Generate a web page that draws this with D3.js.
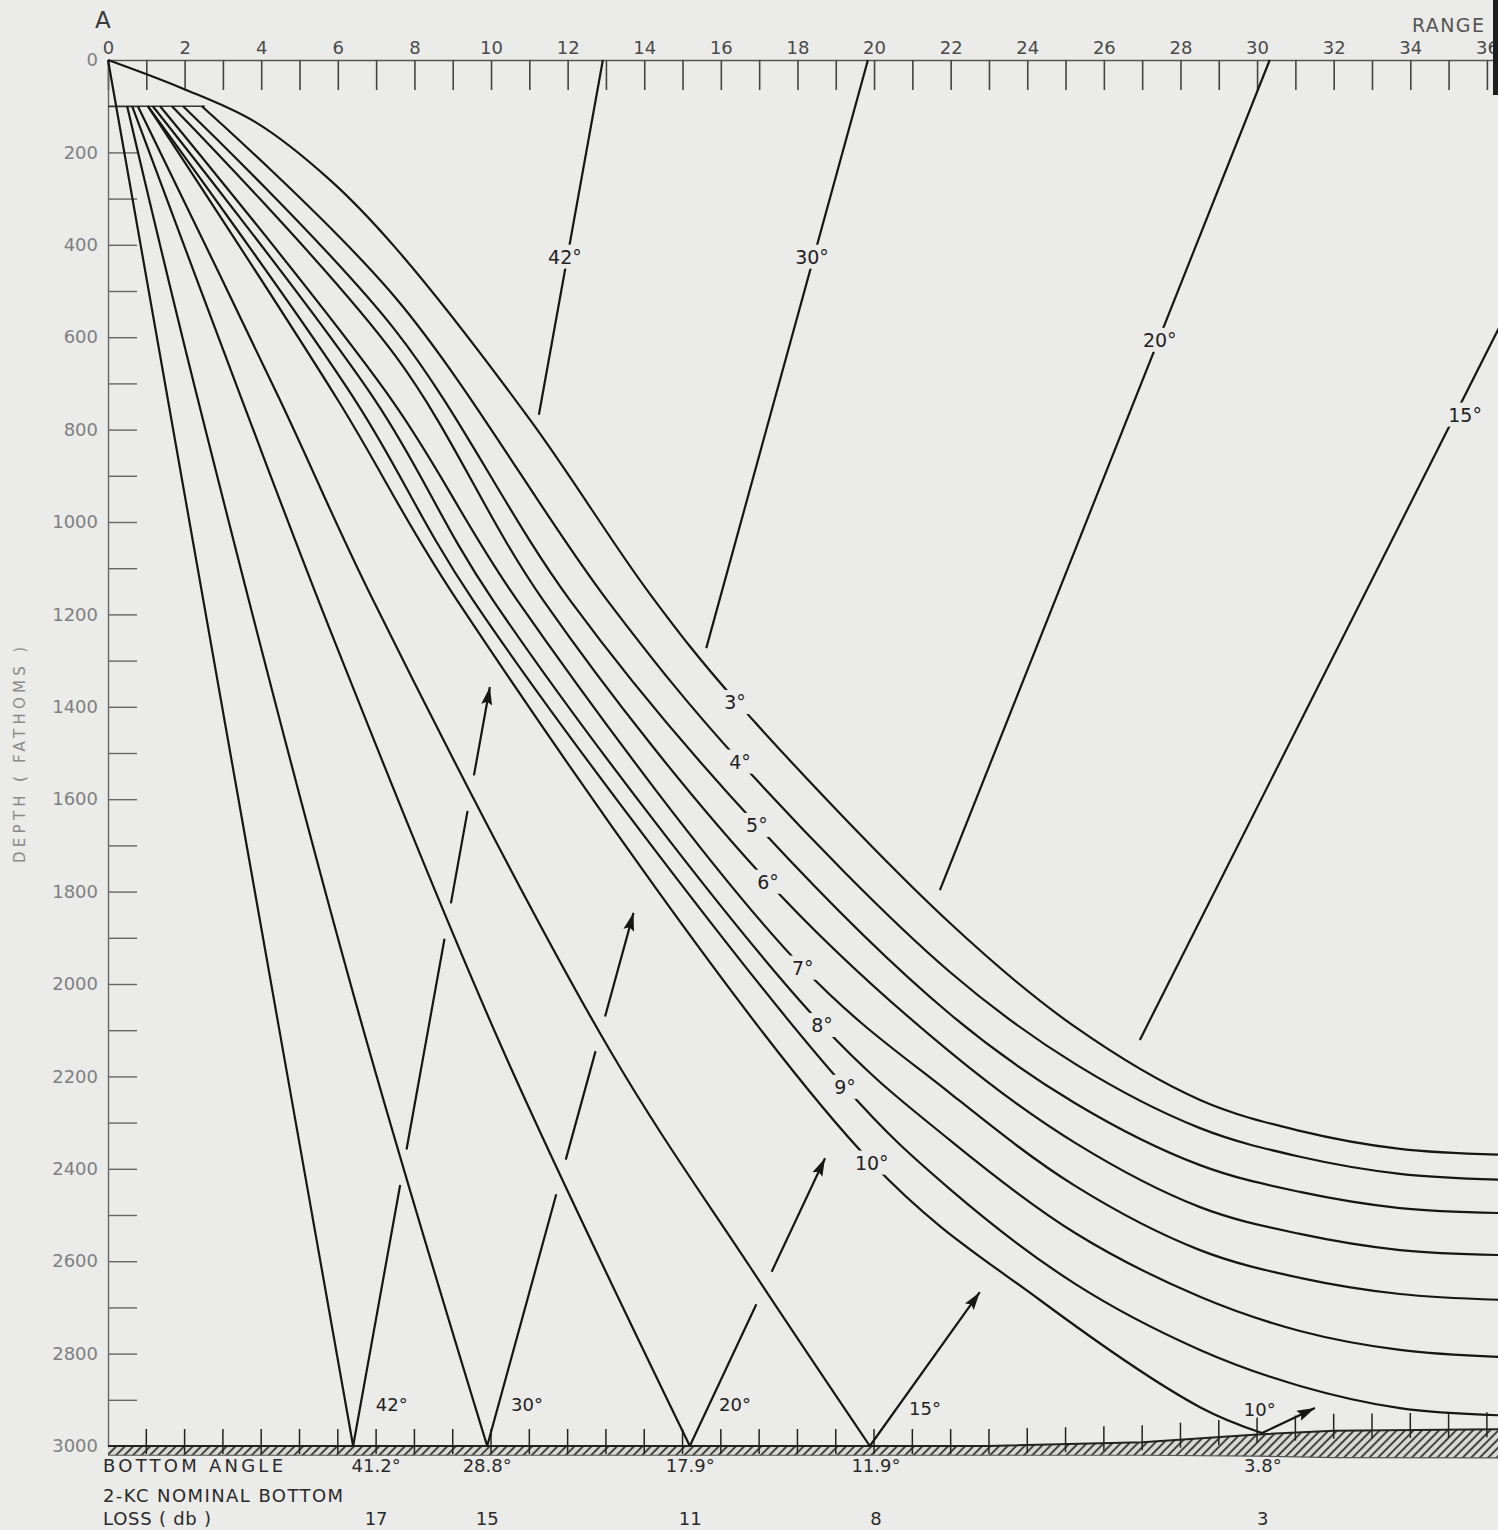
<!DOCTYPE html>
<html>
<head>
<meta charset="UTF-8" />
<title>ray diagram A</title>
<script src="https://cdn.jsdelivr.net/npm/d3@7/dist/d3.min.js"></script>
<style>
  body { margin: 0; background: #ebebe9; }
  text { font-family: "DejaVu Sans", sans-serif; }
</style>
</head>
<body>
<svg id="chart" width="1498" height="1530"></svg>
<script>
  // axis ticks
  var rangeTicks = d3.range(0, 37, 1);
  var depthTicks = d3.range(0, 3001, 100);

  // curved rays, range / depth
  var ray3Range = [0, 1.93, 3.84, 5.80, 7.49, 11.02, 14.15, 16.37, 21.98, 25.25, 28.51, 31.12, 33.73, 36.5];
  var ray3Depth = [0, 61, 134, 260, 405, 779, 1156, 1385, 1868, 2093, 2251, 2318, 2357, 2370];
  var ray4Range = [2.45, 7.49, 13.03, 16.50, 21.98, 25.25, 28.51, 31.12, 33.73, 36.5];
  var ray4Depth = [100, 513, 1169, 1519, 1974, 2173, 2312, 2374, 2411, 2424];
  var ray5Range = [1.96, 7.49, 12.06, 16.94, 21.98, 25.25, 28.51, 31.12, 33.73, 36.5];
  var ray5Depth = [100, 584, 1169, 1656, 2065, 2258, 2392, 2450, 2485, 2496];
  var ray6Range = [1.67, 7.49, 11.36, 17.23, 21.98, 25.25, 28.51, 31.12, 33.73, 36.5];
  var ray6Depth = [100, 639, 1169, 1779, 2147, 2344, 2483, 2541, 2576, 2587];
  var ray7Range = [1.36, 7.41, 10.68, 18.14, 21.98, 25.25, 28.51, 31.12, 33.73, 36.5];
  var ray7Depth = [100, 736, 1169, 1965, 2236, 2437, 2576, 2636, 2671, 2684];
  var ray8Range = [1.17, 6.97, 10.05, 18.64, 21.98, 25.25, 28.51, 31.12, 33.73, 36.5];
  var ray8Depth = [100, 736, 1169, 2089, 2338, 2539, 2677, 2751, 2792, 2808];
  var ray9Range = [1.04, 6.45, 9.53, 19.24, 21.98, 25.25, 28.51, 31.12, 33.73, 36.5];
  var ray9Depth = [100, 736, 1169, 2223, 2444, 2649, 2792, 2870, 2918, 2934];
  var ray10Range = [1.04, 6.00, 9.11, 19.94, 24.33, 28.51, 30.13];
  var ray10Depth = [100, 736, 1169, 2387, 2684, 2916, 2972];

  var curveAngles = ["3°", "4°", "5°", "6°", "7°", "8°", "9°", "10°"];
  var curveLabelRange = [16.37, 16.50, 16.94, 17.23, 18.14, 18.64, 19.24, 19.94];
  var curveLabelDepth = [1390, 1519, 1656, 1779, 1965, 2089, 2223, 2387];

  // steep rays going down to the bottom
  var ray42DownRange = [0, 3.18, 6.40];
  var ray42DownDepth = [0, 1494, 3000];
  var ray30DownRange = [0.50, 2.35, 6.45, 9.90];
  var ray30DownDepth = [100, 736, 2035, 3000];
  var ray20DownRange = [0.63, 3.50, 5.80, 10.31, 15.19];
  var ray20DownDepth = [100, 736, 1234, 2143, 3000];
  var ray15DownRange = [0.78, 4.49, 6.92, 13.10, 16.76, 19.89];
  var ray15DownDepth = [100, 736, 1169, 2143, 2612, 3000];

  // reflected rays: lower part (ends in arrow) and upper part
  var ray42UpLowRange = [6.40, 9.97],  ray42UpLowDepth = [3000, 1357];
  var ray42UpTopRange = [11.25, 12.92], ray42UpTopDepth = [768, 0];
  var ray30UpLowRange = [9.90, 13.72], ray30UpLowDepth = [3000, 1846];
  var ray30UpTopRange = [15.62, 19.84], ray30UpTopDepth = [1273, 0];
  var ray20UpLowRange = [15.19, 18.72], ray20UpLowDepth = [3000, 2377];
  var ray20UpTopRange = [21.72, 30.33], ray20UpTopDepth = [1797, 0];
  var ray15UpLowRange = [19.89, 22.76], ray15UpLowDepth = [3000, 2667];
  var ray15UpTopRange = [26.94, 36.6], ray15UpTopDepth = [2121, 533];
  var ray10UpRange = [30.13, 31.51], ray10UpDepth = [2972, 2918];

  var topAngles = ["42°", "30°", "20°", "15°"];
  var topLabelRange = [11.93, 18.38, 27.46, 35.43];
  var topLabelDepth = [426, 426, 606, 768];

  var reflAngles = ["42°", "30°", "20°", "15°", "10°"];
  var reflLabelRange = [7.41, 10.94, 16.37, 21.33, 30.07];
  var reflLabelDepth = [2911, 2911, 2911, 2918, 2922];

  // bottom table
  var bottomAngles = ["41.2°", "28.8°", "17.9°", "11.9°", "3.8°"];
  var bottomLoss = ["17", "15", "11", "8", "3"];
  var bottomLabelRange = [7.0, 9.9, 15.2, 20.05, 30.15];

  // sea floor
  var floorRange = [0, 23, 27, 30, 32, 37];
  var floorTop = [3000, 3000, 2992, 2975, 2967, 2963];
  var floorBottom = [3020, 3020, 3020, 3022, 3025, 3026];

  var bg = "#ebebe9";
  var ink = "#161616";
  var svg = d3.select("#chart");
  svg.append("rect").attr("width", 1498).attr("height", 1530).attr("fill", bg);

  var x = d3.scaleLinear().domain([0, 36.29]).range([108, 1498]);
  var y = d3.scaleLinear().domain([0, 3000]).range([60, 1446]);

  function pts(r, d) {
    return r.map(function (v, i) { return [x(v), y(d[i])]; });
  }
  var smooth = d3.line().curve(d3.curveCatmullRom.alpha(0.5));
  var straight = d3.line();

  var defs = svg.append("defs");
  defs.append("marker")
    .attr("id", "arrow")
    .attr("markerUnits", "userSpaceOnUse")
    .attr("viewBox", "-18 -6 18 12")
    .attr("refX", 0)
    .attr("refY", 0)
    .attr("markerWidth", 18)
    .attr("markerHeight", 12)
    .attr("orient", "auto")
    .append("path")
    .attr("d", "M0,0L-18,-5.5L-15,0L-18,5.5Z")
    .attr("fill", ink);

  var hatch = defs.append("pattern")
    .attr("id", "hatch")
    .attr("patternUnits", "userSpaceOnUse")
    .attr("width", 6)
    .attr("height", 6)
    .attr("patternTransform", "rotate(45)");
  hatch.append("rect").attr("width", 6).attr("height", 6).attr("fill", "#d8d8d6");
  hatch.append("line").attr("x1", 1).attr("y1", 0).attr("x2", 1).attr("y2", 6)
    .attr("stroke", "#333").attr("stroke-width", 1.8);

  // top axis
  var topAxis = d3.axisTop(x)
    .tickValues(rangeTicks)
    .tickSize(-30)
    .tickSizeOuter(0)
    .tickPadding(6)
    .tickFormat(function (d) { return d % 2 === 0 ? d : ""; });
  var gTop = svg.append("g").attr("transform", "translate(0,60)").call(topAxis);
  gTop.select(".domain").attr("stroke", "#555").attr("stroke-width", 1.6);
  gTop.selectAll(".tick line").attr("stroke", "#444").attr("stroke-width", 1.6);
  gTop.selectAll(".tick text").attr("fill", "#4a4a4a").attr("font-size", 18)
    .style("font-family", "DejaVu Sans");

  // left axis
  var leftAxis = d3.axisLeft(y)
    .tickValues(depthTicks)
    .tickSize(-29)
    .tickSizeOuter(0)
    .tickPadding(10)
    .tickFormat(function (d) { return d % 200 === 0 ? d : ""; });
  var gLeft = svg.append("g").attr("transform", "translate(108,0)").call(leftAxis);
  gLeft.select(".domain").attr("stroke", "#666").attr("stroke-width", 1.4);
  gLeft.selectAll(".tick line").attr("stroke", "#666").attr("stroke-width", 1.4)
    .filter(function (d) { return d === 0 || d === 3000; }).remove();
  gLeft.selectAll(".tick text").attr("fill", "#808080").attr("font-size", 18)
    .style("font-family", "DejaVu Sans");

  svg.append("text").attr("x", 95).attr("y", 28).attr("font-size", 23)
    .attr("fill", "#3a3a3a").text("A");
  svg.append("text").attr("x", 1412).attr("y", 32).attr("font-size", 19)
    .attr("fill", "#555").attr("textLength", 72).attr("lengthAdjust", "spacing").text("RANGE");
  svg.append("text")
    .attr("transform", "translate(25,755) rotate(-90)")
    .attr("text-anchor", "middle")
    .attr("font-size", 15)
    .attr("fill", "#8a8a8a")
    .attr("textLength", 216)
    .attr("lengthAdjust", "spacing")
    .text("DEPTH ( FATHOMS )");

  // dark photo edge at the top right
  svg.append("rect").attr("x", 1493).attr("y", 0).attr("width", 5).attr("height", 95).attr("fill", "#1e1e1e");

  // sea floor
  var floorPts = floorRange.map(function (r, i) { return { r: r, top: floorTop[i], bot: floorBottom[i] }; });
  svg.append("path").datum(floorPts)
    .attr("d", d3.area().x(function (d) { return x(d.r); })
      .y0(function (d) { return y(d.bot); }).y1(function (d) { return y(d.top); }))
    .attr("fill", "url(#hatch)");
  svg.append("path").datum(floorPts)
    .attr("d", d3.line().x(function (d) { return x(d.r); }).y(function (d) { return y(d.top); }))
    .attr("fill", "none").attr("stroke", "#222").attr("stroke-width", 2);
  svg.append("path").datum(floorPts)
    .attr("d", d3.line().x(function (d) { return x(d.r); }).y(function (d) { return y(d.bot); }))
    .attr("fill", "none").attr("stroke", "#555").attr("stroke-width", 1.2);

  var floorAt = d3.scaleLinear().domain(floorRange).range(floorTop);
  svg.append("g").selectAll("line")
    .data(d3.range(1, 37))
    .join("line")
    .attr("x1", function (d) { return x(d); })
    .attr("x2", function (d) { return x(d); })
    .attr("y1", function (d) { return y(floorAt(d)) - 17; })
    .attr("y2", function (d) { return y(floorAt(d)) + 8; })
    .attr("stroke", "#222")
    .attr("stroke-width", 1.5);

  // surface layer line at 100 fathoms
  svg.append("path")
    .attr("d", straight(pts([0, 2.53], [100, 100])))
    .attr("fill", "none").attr("stroke", "#333").attr("stroke-width", 1.6);

  var rays = svg.append("g").attr("fill", "none").attr("stroke", ink)
    .attr("stroke-width", 2.2).attr("stroke-linecap", "butt");

  var curves = [
    [ray3Range, ray3Depth], [ray4Range, ray4Depth], [ray5Range, ray5Depth], [ray6Range, ray6Depth],
    [ray7Range, ray7Depth], [ray8Range, ray8Depth], [ray9Range, ray9Depth], [ray10Range, ray10Depth]
  ];
  curves.forEach(function (c) {
    rays.append("path").attr("d", smooth(pts(c[0], c[1])));
  });

  var downRays = [
    [ray42DownRange, ray42DownDepth], [ray30DownRange, ray30DownDepth],
    [ray20DownRange, ray20DownDepth], [ray15DownRange, ray15DownDepth]
  ];
  var downPolys = downRays.map(function (c) {
    var p = rays.append("path").attr("d", smooth(pts(c[0], c[1])));
    var node = p.node(), len = node.getTotalLength(), poly = [];
    for (var s = 0; s <= len; s += 3) {
      var q = node.getPointAtLength(s);
      poly.push([q.x, q.y]);
    }
    var e = node.getPointAtLength(len);
    poly.push([e.x, e.y]);
    return poly;
  });

  function crossAt(p, p2, q, q2) {
    var rx = p2[0] - p[0], ry = p2[1] - p[1], sx = q2[0] - q[0], sy = q2[1] - q[1];
    var den = rx * sy - ry * sx;
    if (Math.abs(den) < 1e-9) return null;
    var qx = q[0] - p[0], qy = q[1] - p[1];
    var t = (qx * sy - qy * sx) / den, u = (qx * ry - qy * rx) / den;
    return (t >= 0 && t <= 1 && u >= 0 && u <= 1) ? t : null;
  }

  // lower reflected parts: broken where they cross the steep rays
  var lowParts = [
    [ray42UpLowRange, ray42UpLowDepth], [ray30UpLowRange, ray30UpLowDepth],
    [ray20UpLowRange, ray20UpLowDepth], [ray15UpLowRange, ray15UpLowDepth],
    [ray10UpRange, ray10UpDepth]
  ];
  var gap = 18;
  lowParts.forEach(function (c) {
    var p = pts(c[0], c[1]);
    var p0 = p[0], p1 = p[p.length - 1];
    var L = Math.hypot(p1[0] - p0[0], p1[1] - p0[1]);
    var cuts = [];
    downPolys.forEach(function (poly) {
      for (var i = 0; i < poly.length - 1; i++) {
        var t = crossAt(p0, p1, poly[i], poly[i + 1]);
        if (t !== null && t * L > 40) cuts.push(t * L);
      }
    });
    cuts.sort(d3.ascending);
    var dash = [], pos = 0;
    cuts.forEach(function (cu) { dash.push(cu - gap - pos, 2 * gap); pos = cu + gap; });
    dash.push(L - pos + 2, 4000);
    rays.append("path")
      .attr("d", straight([p0, p1]))
      .attr("stroke-dasharray", dash.join(","))
      .attr("marker-end", "url(#arrow)");
  });

  var topParts = [
    [ray42UpTopRange, ray42UpTopDepth], [ray30UpTopRange, ray30UpTopDepth],
    [ray20UpTopRange, ray20UpTopDepth], [ray15UpTopRange, ray15UpTopDepth]
  ];
  topParts.forEach(function (c) {
    rays.append("path").attr("d", straight(pts(c[0], c[1])));
  });

  // labels sitting on lines get a background patch that breaks the line
  function gapLabel(txt, r, d) {
    var g = svg.append("g").attr("transform", "translate(" + x(r) + "," + y(d) + ")");
    var t = g.append("text").attr("text-anchor", "middle").attr("dy", "0.36em")
      .attr("font-size", 19).attr("fill", "#222").text(txt);
    var b = t.node().getBBox();
    g.insert("rect", "text")
      .attr("x", b.x - 5).attr("y", b.y - 1)
      .attr("width", b.width + 10).attr("height", b.height + 2)
      .attr("fill", bg);
  }
  curveAngles.forEach(function (a, i) { gapLabel(a, curveLabelRange[i], curveLabelDepth[i]); });
  topAngles.forEach(function (a, i) { gapLabel(a, topLabelRange[i], topLabelDepth[i]); });

  svg.append("g").selectAll("text")
    .data(reflAngles)
    .join("text")
    .attr("x", function (d, i) { return x(reflLabelRange[i]); })
    .attr("y", function (d, i) { return y(reflLabelDepth[i]); })
    .attr("dy", "0.36em")
    .attr("text-anchor", "middle")
    .attr("font-size", 18)
    .attr("fill", "#222")
    .text(function (d) { return d; });

  // bottom table
  var table = svg.append("g").attr("fill", "#2a2a2a").attr("font-size", 18);
  table.append("text").attr("x", 103).attr("y", 1472)
    .attr("textLength", 180).attr("lengthAdjust", "spacing").text("BOTTOM ANGLE");
  table.append("text").attr("x", 103).attr("y", 1502)
    .attr("textLength", 240).attr("lengthAdjust", "spacing").text("2-KC NOMINAL BOTTOM");
  table.append("text").attr("x", 103).attr("y", 1525)
    .attr("textLength", 108).attr("lengthAdjust", "spacing").text("LOSS ( db )");
  table.selectAll(".ang").data(bottomAngles).join("text")
    .attr("class", "ang")
    .attr("x", function (d, i) { return x(bottomLabelRange[i]); })
    .attr("y", 1472)
    .attr("text-anchor", "middle")
    .text(function (d) { return d; });
  table.selectAll(".loss").data(bottomLoss).join("text")
    .attr("class", "loss")
    .attr("x", function (d, i) { return x(bottomLabelRange[i]); })
    .attr("y", 1525)
    .attr("text-anchor", "middle")
    .text(function (d) { return d; });
</script>
</body>
</html>
